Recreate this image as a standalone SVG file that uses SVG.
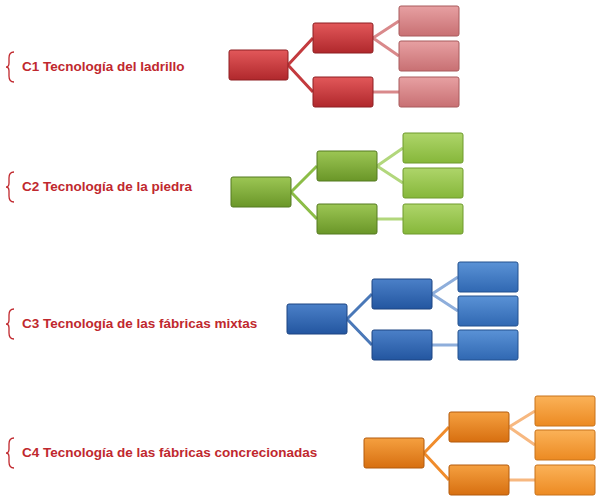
<svg xmlns="http://www.w3.org/2000/svg" width="600" height="504" viewBox="0 0 600 504">
<defs>
<linearGradient id="gr" x1="0" y1="0" x2="0" y2="1"><stop offset="0" stop-color="#e2585a"/><stop offset="1" stop-color="#b0282c"/></linearGradient>
<linearGradient id="grl" x1="0" y1="0" x2="0" y2="1"><stop offset="0" stop-color="#e7a0a2"/><stop offset="1" stop-color="#c87073"/></linearGradient>
<linearGradient id="gg" x1="0" y1="0" x2="0" y2="1"><stop offset="0" stop-color="#9cc654"/><stop offset="1" stop-color="#6a9628"/></linearGradient>
<linearGradient id="ggl" x1="0" y1="0" x2="0" y2="1"><stop offset="0" stop-color="#aed56a"/><stop offset="1" stop-color="#86b73a"/></linearGradient>
<linearGradient id="gb" x1="0" y1="0" x2="0" y2="1"><stop offset="0" stop-color="#4b80c8"/><stop offset="1" stop-color="#2356a0"/></linearGradient>
<linearGradient id="gbl" x1="0" y1="0" x2="0" y2="1"><stop offset="0" stop-color="#5a92d6"/><stop offset="1" stop-color="#3068b2"/></linearGradient>
<linearGradient id="go" x1="0" y1="0" x2="0" y2="1"><stop offset="0" stop-color="#f5a040"/><stop offset="1" stop-color="#d76f10"/></linearGradient>
<linearGradient id="gol" x1="0" y1="0" x2="0" y2="1"><stop offset="0" stop-color="#fbb258"/><stop offset="1" stop-color="#ec8a22"/></linearGradient>
</defs>
<style>
rect{rx:2;stroke-width:1}
.r{fill:url(#gr);stroke:#8e1f22}.rl{fill:url(#grl);stroke:#a85a5c}
.g{fill:url(#gg);stroke:#557a20}.gl{fill:url(#ggl);stroke:#6e9a2c}
.b{fill:url(#gb);stroke:#1c4482}.bl{fill:url(#gbl);stroke:#22508e}
.o{fill:url(#go);stroke:#b35a0c}.ol{fill:url(#gol);stroke:#c8721a}
.c{fill:none;stroke-width:3}
.cr1{stroke:#c33a3e}.cr2{stroke:#d9898b}
.cg1{stroke:#8cbd47}.cg2{stroke:#b2d77c}
.cb1{stroke:#4a78b8}.cb2{stroke:#8eaedb}
.co1{stroke:#f08c2c}.co2{stroke:#f7b880}
.t{font-family:"Liberation Sans",Arial,sans-serif;font-weight:bold;font-size:13.5px;fill:#c0282e}
.br{fill:none;stroke:#c0282e;stroke-width:1.3}
</style>
<g id="connectors">
<path class="c cr1" d="M288 65L313 38M288 65L313 92"/><path class="c cr2" d="M373 38L399 21M373 38L399 56M373 92H399"/>
<path class="c cg1" d="M291 192L317 166M291 192L317 219"/><path class="c cg2" d="M377 166L403 148M377 166L403 183M377 219H403"/>
<path class="c cb1" d="M347 319L372 294M347 319L372 345"/><path class="c cb2" d="M432 294L458 277M432 294L458 311M432 345H458"/>
<path class="c co1" d="M424 453L449 427M424 453L449 480"/><path class="c co2" d="M509 427L535 411M509 427L535 445M509 480H535"/>
</g>
<g id="label1"><path class="br" d="M14 52Q9 52 9 58V63Q9 67 6 67Q9 67 9 71V76Q9 82 14 82"/><text class="t" x="22" y="71">C1 Tecnología del ladrillo</text></g>
<g id="label2"><path class="br" d="M14 172Q9 172 9 178V183Q9 187 6 187Q9 187 9 191V196Q9 202 14 202"/><text class="t" x="22" y="191">C2 Tecnología de la piedra</text></g>
<g id="label3"><path class="br" d="M14 309Q9 309 9 315V320Q9 324 6 324Q9 324 9 328V333Q9 339 14 339"/><text class="t" x="22" y="328">C3 Tecnología de las fábricas mixtas</text></g>
<g id="label4"><path class="br" d="M14 438Q9 438 9 444V449Q9 453 6 453Q9 453 9 457V462Q9 468 14 468"/><text class="t" x="22" y="457">C4 Tecnología de las fábricas concrecionadas</text></g>
<g id="r0"><rect class="r" x="229" y="50" width="59" height="30"/></g>
<g id="r1"><rect class="r" x="313" y="23" width="60" height="30"/></g>
<g id="r2"><rect class="r" x="313" y="77" width="60" height="30"/></g>
<g id="r3"><rect class="rl" x="399" y="6" width="60" height="30"/></g>
<g id="r4"><rect class="rl" x="399" y="41" width="60" height="30"/></g>
<g id="r5"><rect class="rl" x="399" y="77" width="60" height="30"/></g>
<g id="g0"><rect class="g" x="231" y="177" width="60" height="30"/></g>
<g id="g1"><rect class="g" x="317" y="151" width="60" height="30"/></g>
<g id="g2"><rect class="g" x="317" y="204" width="60" height="30"/></g>
<g id="g3"><rect class="gl" x="403" y="133" width="60" height="30"/></g>
<g id="g4"><rect class="gl" x="403" y="168" width="60" height="30"/></g>
<g id="g5"><rect class="gl" x="403" y="204" width="60" height="30"/></g>
<g id="b0"><rect class="b" x="287" y="304" width="60" height="30"/></g>
<g id="b1"><rect class="b" x="372" y="279" width="60" height="30"/></g>
<g id="b2"><rect class="b" x="372" y="330" width="60" height="30"/></g>
<g id="b3"><rect class="bl" x="458" y="262" width="60" height="30"/></g>
<g id="b4"><rect class="bl" x="458" y="296" width="60" height="30"/></g>
<g id="b5"><rect class="bl" x="458" y="330" width="60" height="30"/></g>
<g id="o0"><rect class="o" x="364" y="438" width="60" height="30"/></g>
<g id="o1"><rect class="o" x="449" y="412" width="60" height="30"/></g>
<g id="o2"><rect class="o" x="449" y="465" width="60" height="30"/></g>
<g id="o3"><rect class="ol" x="535" y="396" width="60" height="30"/></g>
<g id="o4"><rect class="ol" x="535" y="430" width="60" height="30"/></g>
<g id="o5"><rect class="ol" x="535" y="465" width="60" height="30"/></g>
</svg>
